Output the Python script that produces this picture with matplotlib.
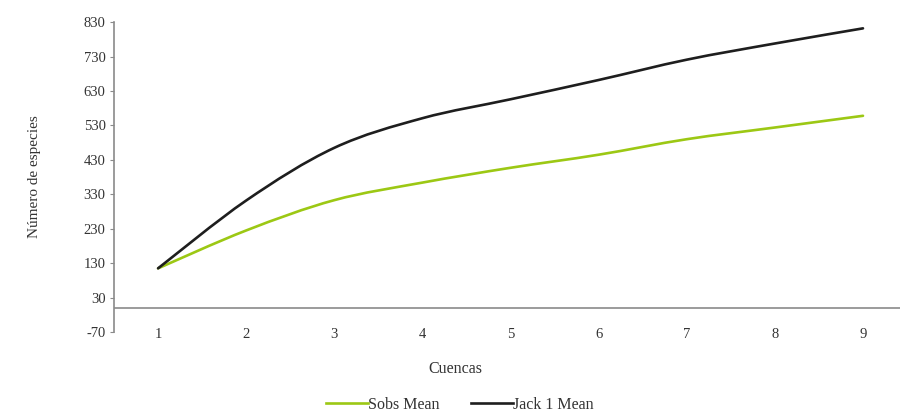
import matplotlib
matplotlib.use("Agg")
import matplotlib.pyplot as plt
from matplotlib.path import Path
from matplotlib.patches import PathPatch
from matplotlib.lines import Line2D
import numpy as np

cuencas = [1, 2, 3, 4, 5, 6, 7, 8, 9]
sobs_mean = [115, 225, 313, 364, 407, 445, 490, 524, 558]
jack1_mean = [115, 312, 465, 551, 606, 662, 721, 768, 812]
y_ticks = [-70, 30, 130, 230, 330, 430, 530, 630, 730, 830]

plt.rcParams['font.family'] = ['Liberation Serif', 'DejaVu Serif']

fig = plt.figure(figsize=(9, 4.18), dpi=100)
ax = fig.add_axes([0.1267, 0.2057, 0.8733, 0.7413])

green = '#9CC814'
black = '#1e1e1e'
grey = '#8a8a8a'
text_c = '#333333'


def smooth_path(xs, ys):
    """Excel-style smoothed line through the data points (Bezier segments)."""
    p = np.column_stack([xs, ys]).astype(float)
    n = len(p)
    verts = [p[0]]
    codes = [Path.MOVETO]
    for i in range(n - 1):
        p0 = p[i - 1] if i > 0 else p[i]
        p1 = p[i]
        p2 = p[i + 1]
        p3 = p[i + 2] if i + 2 < n else p[i + 1]
        c1 = p1 + (p2 - p0) / 6.0
        c2 = p2 - (p3 - p1) / 6.0
        verts += [c1, c2, p2]
        codes += [Path.CURVE4] * 3
    return Path(verts, codes)


for ys, col in [(sobs_mean, green), (jack1_mean, black)]:
    patch = PathPatch(smooth_path(cuencas, ys), facecolor='none', edgecolor=col,
                      lw=1.9, capstyle='round', joinstyle='round', zorder=3)
    ax.add_patch(patch)

ax.set_xlim(0.5, 9.42)
ax.set_ylim(-70, 830)
ax.set_yticks(y_ticks)
ax.set_yticklabels([str(v) for v in y_ticks])
ax.set_xticks(cuencas)
ax.set_xticklabels([str(c) for c in cuencas])

for s in ['top', 'right', 'bottom']:
    ax.spines[s].set_visible(False)
ax.spines['left'].set_color(grey)
ax.spines['left'].set_linewidth(1.2)
ax.axhline(0, color=grey, lw=1.2, zorder=1)

ax.tick_params(axis='y', length=3, color=grey, labelsize=10.5, labelcolor=text_c, pad=3)
ax.tick_params(axis='x', length=0, labelsize=10.5, labelcolor=text_c, pad=-3)

fig.text(0.506, 0.118, 'Cuencas', ha='center', va='center', fontsize=11.5, color=text_c)
fig.text(0.038, 0.577, 'Número de especies', ha='center', va='center', rotation=90,
         fontsize=11, color=text_c)

handles = [Line2D([], [], color=green, lw=1.9), Line2D([], [], color=black, lw=1.9)]
leg = fig.legend(handles, ['Sobs Mean', 'Jack 1 Mean'], loc='center',
                 bbox_to_anchor=(0.511, 0.031), ncol=2, frameon=False,
                 fontsize=11.5, handlelength=2.6, handletextpad=0.0, columnspacing=2.0)
for t in leg.get_texts():
    t.set_color(text_c)

fig.savefig('out.png', dpi=100)
